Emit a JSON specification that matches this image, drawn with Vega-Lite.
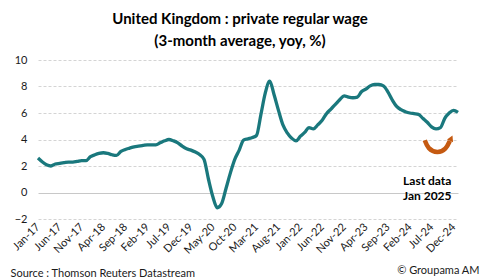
{
  "$schema": "https://vega.github.io/schema/vega-lite/v6.json",
  "width": 420,
  "height": 159,
  "autosize": {"type": "none"},
  "padding": {"left": 38, "right": 22, "top": 60, "bottom": 60},
  "background": "white",
  "config": {
    "font": "Lato",
    "view": {"stroke": null},
    "axis": {"labelFont": "Lato", "titleFont": "Lato", "labelColor": "#1a1a1a", "titleColor": "#1a1a1a"}
  },
  "title": {
    "text": ["United Kingdom : private regular wage", "(3-month average, yoy, %)"],
    "fontSize": 15,
    "fontWeight": "bold",
    "font": "Lato",
    "color": "#000000",
    "anchor": "middle",
    "dx": -8,
    "offset": 5,
    "lineHeight": 22.5
  },
  "datasets": {
    "wage": [
      {"date": "2017-01-01", "value": 2.6},
      {"date": "2017-02-01", "value": 2.3},
      {"date": "2017-03-01", "value": 2.1},
      {"date": "2017-04-01", "value": 2.0},
      {"date": "2017-05-01", "value": 2.15},
      {"date": "2017-06-01", "value": 2.2},
      {"date": "2017-07-01", "value": 2.25},
      {"date": "2017-08-01", "value": 2.3},
      {"date": "2017-09-01", "value": 2.3},
      {"date": "2017-10-01", "value": 2.35},
      {"date": "2017-11-01", "value": 2.4},
      {"date": "2017-12-01", "value": 2.4},
      {"date": "2018-01-01", "value": 2.7},
      {"date": "2018-02-01", "value": 2.85},
      {"date": "2018-03-01", "value": 2.95},
      {"date": "2018-04-01", "value": 3.0},
      {"date": "2018-05-01", "value": 2.95},
      {"date": "2018-06-01", "value": 2.85},
      {"date": "2018-07-01", "value": 2.8},
      {"date": "2018-08-01", "value": 3.1},
      {"date": "2018-09-01", "value": 3.25},
      {"date": "2018-10-01", "value": 3.35},
      {"date": "2018-11-01", "value": 3.45},
      {"date": "2018-12-01", "value": 3.5},
      {"date": "2019-01-01", "value": 3.55},
      {"date": "2019-02-01", "value": 3.6},
      {"date": "2019-03-01", "value": 3.6},
      {"date": "2019-04-01", "value": 3.6},
      {"date": "2019-05-01", "value": 3.75},
      {"date": "2019-06-01", "value": 3.9},
      {"date": "2019-07-01", "value": 4.0},
      {"date": "2019-08-01", "value": 3.9},
      {"date": "2019-09-01", "value": 3.75},
      {"date": "2019-10-01", "value": 3.5},
      {"date": "2019-11-01", "value": 3.3},
      {"date": "2019-12-01", "value": 3.2},
      {"date": "2020-01-01", "value": 3.05},
      {"date": "2020-02-01", "value": 2.85},
      {"date": "2020-03-01", "value": 2.5},
      {"date": "2020-04-01", "value": 1.0},
      {"date": "2020-05-01", "value": -0.3},
      {"date": "2020-06-01", "value": -1.15},
      {"date": "2020-07-01", "value": -0.85},
      {"date": "2020-08-01", "value": 0.3},
      {"date": "2020-09-01", "value": 1.5},
      {"date": "2020-10-01", "value": 2.5},
      {"date": "2020-11-01", "value": 3.2},
      {"date": "2020-12-01", "value": 3.95},
      {"date": "2021-01-01", "value": 4.05},
      {"date": "2021-02-01", "value": 4.15},
      {"date": "2021-03-01", "value": 4.3},
      {"date": "2021-04-01", "value": 5.9},
      {"date": "2021-05-01", "value": 7.5},
      {"date": "2021-06-01", "value": 8.4},
      {"date": "2021-07-01", "value": 7.4},
      {"date": "2021-08-01", "value": 6.2},
      {"date": "2021-09-01", "value": 5.1},
      {"date": "2021-10-01", "value": 4.5},
      {"date": "2021-11-01", "value": 4.1},
      {"date": "2021-12-01", "value": 3.9},
      {"date": "2022-01-01", "value": 4.25},
      {"date": "2022-02-01", "value": 4.55},
      {"date": "2022-03-01", "value": 4.9},
      {"date": "2022-04-01", "value": 4.8},
      {"date": "2022-05-01", "value": 5.1},
      {"date": "2022-06-01", "value": 5.45},
      {"date": "2022-07-01", "value": 5.95},
      {"date": "2022-08-01", "value": 6.3},
      {"date": "2022-09-01", "value": 6.65},
      {"date": "2022-10-01", "value": 7.0},
      {"date": "2022-11-01", "value": 7.3},
      {"date": "2022-12-01", "value": 7.2},
      {"date": "2023-01-01", "value": 7.15},
      {"date": "2023-02-01", "value": 7.2},
      {"date": "2023-03-01", "value": 7.6},
      {"date": "2023-04-01", "value": 7.8},
      {"date": "2023-05-01", "value": 8.05},
      {"date": "2023-06-01", "value": 8.15},
      {"date": "2023-07-01", "value": 8.15},
      {"date": "2023-08-01", "value": 8.05},
      {"date": "2023-09-01", "value": 7.6},
      {"date": "2023-10-01", "value": 7.0},
      {"date": "2023-11-01", "value": 6.5},
      {"date": "2023-12-01", "value": 6.25},
      {"date": "2024-01-01", "value": 6.1},
      {"date": "2024-02-01", "value": 6.0},
      {"date": "2024-03-01", "value": 5.95},
      {"date": "2024-04-01", "value": 5.9},
      {"date": "2024-05-01", "value": 5.6},
      {"date": "2024-06-01", "value": 5.3},
      {"date": "2024-07-01", "value": 4.95},
      {"date": "2024-08-01", "value": 4.8},
      {"date": "2024-09-01", "value": 4.9},
      {"date": "2024-10-01", "value": 5.6},
      {"date": "2024-11-01", "value": 6.0},
      {"date": "2024-12-01", "value": 6.2},
      {"date": "2025-01-01", "value": 6.05}
    ],
    "arrow": [
      {"date": "2024-05-15", "value": 3.95},
      {"date": "2024-06-05", "value": 3.3},
      {"date": "2024-08-10", "value": 2.95},
      {"date": "2024-10-10", "value": 3.25},
      {"date": "2024-11-05", "value": 3.9}
    ],
    "arrowhead": [
      {"date": "2024-11-15", "value": 4.1}
    ],
    "notes": [
      {"date": "2024-06-01", "value": 0.9, "label": "Last data"},
      {"date": "2024-06-01", "value": -0.25, "label": "Jan 2025"}
    ]
  },
  "encoding": {
    "x": {
      "field": "date",
      "type": "temporal",
      "scale": {
        "type": "utc",
        "domain": [
          {"year": 2017, "month": 1, "date": 1, "utc": true},
          {"year": 2025, "month": 1, "date": 1, "utc": true}
        ]
      },
      "axis": {
        "values": [
          {"year": 2017, "month": 1, "utc": true},
          {"year": 2017, "month": 6, "utc": true},
          {"year": 2017, "month": 11, "utc": true},
          {"year": 2018, "month": 4, "utc": true},
          {"year": 2018, "month": 9, "utc": true},
          {"year": 2019, "month": 2, "utc": true},
          {"year": 2019, "month": 7, "utc": true},
          {"year": 2019, "month": 12, "utc": true},
          {"year": 2020, "month": 5, "utc": true},
          {"year": 2020, "month": 10, "utc": true},
          {"year": 2021, "month": 3, "utc": true},
          {"year": 2021, "month": 8, "utc": true},
          {"year": 2022, "month": 1, "utc": true},
          {"year": 2022, "month": 6, "utc": true},
          {"year": 2022, "month": 11, "utc": true},
          {"year": 2023, "month": 4, "utc": true},
          {"year": 2023, "month": 9, "utc": true},
          {"year": 2024, "month": 2, "utc": true},
          {"year": 2024, "month": 7, "utc": true},
          {"year": 2024, "month": 12, "utc": true}
        ],
        "labelExpr": "utcFormat(datum.value, '%b-%y')",
        "labelAngle": -45,
        "labelAlign": "right",
        "labelBaseline": "middle",
        "labelFontSize": 11,
        "labelPadding": 6,
        "labelOverlap": false,
        "labelFlush": false,
        "domain": false,
        "ticks": false,
        "grid": false,
        "title": "Source : Thomson Reuters Datastream",
        "titleFontSize": 11,
        "titleFontWeight": "normal",
        "titleAnchor": "start",
        "titleAlign": "left",
        "titleBaseline": "middle",
        "titleX": -28,
        "titleY": 54
      }
    },
    "y": {
      "field": "value",
      "type": "quantitative",
      "scale": {"domain": [-2, 10], "nice": false, "zero": false},
      "axis": {
        "values": [-2, 0, 2, 4, 6, 8, 10],
        "domain": false,
        "ticks": false,
        "labelFontSize": 11,
        "labelPadding": 11,
        "grid": true,
        "gridColor": {"condition": {"test": "datum.value === 0", "value": "#c8c8c8"}, "value": "#d4d4d4"},
        "gridDash": {"condition": {"test": "datum.value === 0", "value": []}, "value": [3, 2]},
        "gridWidth": 1,
        "title": "© Groupama AM",
        "titleAngle": 0,
        "titleFontSize": 11,
        "titleFontWeight": "normal",
        "titleAlign": "right",
        "titleBaseline": "middle",
        "titleX": 441,
        "titleY": 210
      }
    }
  },
  "layer": [
    {
      "data": {"name": "wage"},
      "mark": {"type": "line", "color": "#1a787d", "strokeWidth": 3.3, "interpolate": "monotone"}
    },
    {
      "data": {"name": "arrow"},
      "mark": {"type": "line", "color": "#c55a11", "strokeWidth": 4.5, "interpolate": "basis", "strokeCap": "butt"}
    },
    {
      "data": {"name": "arrowhead"},
      "mark": {"type": "point", "shape": "triangle-up", "filled": true, "color": "#c55a11", "size": 45, "angle": 25, "opacity": 1}
    },
    {
      "data": {"name": "notes"},
      "mark": {"type": "text", "fontSize": 12, "fontWeight": "bold", "font": "Lato", "color": "#000000", "align": "center", "baseline": "middle"},
      "encoding": {"text": {"field": "label"}}
    }
  ]
}
